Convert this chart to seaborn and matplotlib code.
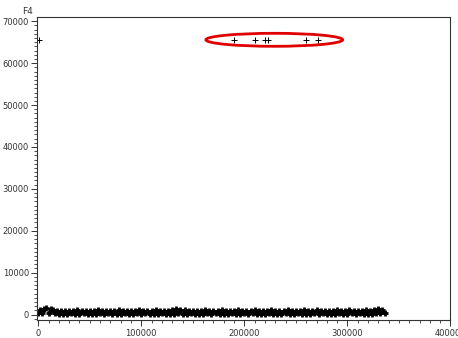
import numpy as np
import pandas as pd
import matplotlib
matplotlib.use("Agg")
import matplotlib.pyplot as plt
from matplotlib.patches import Ellipse
from matplotlib.ticker import MultipleLocator
import seaborn as sns

# observation id (x) and F4 value (y) of the dense band near zero
band_x = list(range(0, 338000, 2000))
band_y = [
    300, 1100, 250, 1300, 1500, 400, 1400, 1200, 300, 900, 150, 800, 200,
    950, 100, 850, 250, 900, 150, 1000, 200, 800, 300, 950, 100, 850,
    200, 900, 150, 1000, 250, 800, 100, 950, 300, 850, 200, 900, 150,
    1000, 100, 800, 250, 900, 200, 950, 150, 850, 300, 1000, 100, 900,
    250, 850, 150, 950, 200, 1000, 100, 800, 300, 900, 150, 950, 200,
    1100, 100, 1300, 250, 1200, 150, 1000, 200, 900, 300, 850, 100, 950,
    200, 900, 150, 1000, 250, 850, 100, 950, 300, 800, 200, 1000, 150,
    900, 100, 950, 250, 850, 200, 1000, 150, 900, 300, 800, 100, 950,
    250, 1000, 150, 900, 200, 950, 100, 850, 300, 1000, 150, 900, 200,
    850, 100, 950, 250, 1000, 200, 900, 150, 850, 300, 950, 100, 1000,
    200, 900, 150, 850, 250, 1000, 100, 950, 300, 900, 200, 850, 150,
    950, 100, 1000, 250, 900, 200, 850, 150, 1000, 300, 900, 100, 950,
    250, 900, 150, 1000, 200, 950, 100, 1100, 300, 1300, 250, 1200, 400,
]

# outliers at the 16-bit ceiling
outlier_x = [500, 190000, 210000, 220000, 223000, 259500, 271500]
outlier_y = [65535, 65535, 65535, 65535, 65535, 65535, 65535]

band = pd.DataFrame({"id": band_x, "F4": band_y})
outl = pd.DataFrame({"id": outlier_x, "F4": outlier_y})

sns.set_style("white")
plt.rcParams["font.family"] = ["Liberation Sans Narrow", "DejaVu Sans"]

fig = plt.figure(figsize=(4.58, 3.38), dpi=100)
ax = fig.add_axes([0.0801, 0.0533, 0.9035, 0.8955])

# band is thousands of overlapping points in the original -> heavier marks
sns.scatterplot(data=band, x="id", y="F4", marker="+", color="black",
                s=16, linewidth=2.0, ax=ax, legend=False)
sns.scatterplot(data=outl, x="id", y="F4", marker="+", color="black",
                s=22, linewidth=0.7, ax=ax, legend=False)

ell = Ellipse((229000, 65580), 132700, 3100, fill=False,
              edgecolor="#e00000", linewidth=2)
ax.add_patch(ell)

ax.set_xlim(-1500, 400000)
ax.set_ylim(-1300, 70950)
ax.xaxis.set_major_locator(MultipleLocator(100000))
ax.xaxis.set_minor_locator(MultipleLocator(10000))
ax.yaxis.set_major_locator(MultipleLocator(10000))
ax.yaxis.set_minor_locator(MultipleLocator(1000))
ax.tick_params(which="major", direction="out", length=4, width=0.7,
               labelsize=6, pad=2.5, bottom=True, left=True, colors="#333333")
ax.tick_params(which="minor", direction="out", length=2.2, width=0.6,
               bottom=True, left=True, color="#333333")
ax.tick_params(axis="y", which="major", pad=1.5)
for sp in ax.spines.values():
    sp.set_linewidth(0.8)
    sp.set_color("#333333")

ax.set_xlabel("")
ax.set_ylabel("")
ax.annotate("F4", xy=(0, 1), xycoords="axes fraction", xytext=(-3, 1),
            textcoords="offset points", ha="right", va="bottom",
            fontsize=6.5, color="#333333")

fig.savefig("out.png", dpi=100)
